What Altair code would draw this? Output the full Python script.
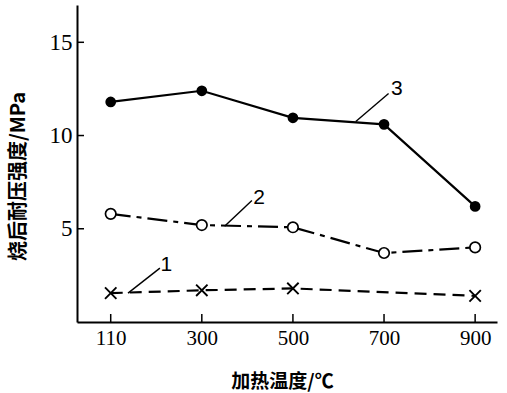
import altair as alt
import pandas as pd

# ---- data ----
temps = ["110", "300", "500", "700", "900"]
series3 = [11.8, 12.4, 10.95, 10.6, 6.2]      # filled circles, solid
series2 = [5.8, 5.2, 5.08, 3.7, 4.0]          # open circles, dash-dot
series1_temps = ["110", "300", "500", "900"]  # crosses, dashed
series1 = [1.55, 1.7, 1.8, 1.4]
y_ticks = [5, 10, 15]

# annotation labels (position in data units) and leader lines
ann_text = ["3", "2", "1"]
ann_x = [3.14, 1.63, 0.61]
ann_y = [12.5, 6.65, 3.05]
lead_x1 = [2.69, 1.25, 0.19]
lead_y1 = [10.75, 5.13, 1.55]
lead_x2 = [3.05, 1.55, 0.54]
lead_y2 = [12.25, 6.52, 2.89]

idx = {t: i for i, t in enumerate(temps)}
d3 = pd.DataFrame({"i": [idx[t] for t in temps], "v": series3})
d2 = pd.DataFrame({"i": [idx[t] for t in temps], "v": series2})
d1 = pd.DataFrame({"i": [idx[t] for t in series1_temps], "v": series1})
dt = pd.DataFrame({"i": list(range(len(temps))), "t": temps})
dy = pd.DataFrame({"v": y_ticks})
da = pd.DataFrame({"x": ann_x, "y": ann_y, "s": ann_text})
dl = pd.DataFrame({"x": lead_x1, "y": lead_y1, "x2": lead_x2, "y2": lead_y2})

W, H = 420, 317
xs = alt.Scale(domain=[-0.37, 4.24], nice=False, zero=False)
ys = alt.Scale(domain=[0, 17], nice=False, zero=False)

label_expr = "[" + ",".join(f"'{t}'" for t in temps) + "][datum.value]"

X = alt.X("i:Q", scale=xs, axis=alt.Axis(
    values=list(range(len(temps))), labelExpr=label_expr, title="加热温度/℃",
    tickSize=0, labelPadding=5, grid=False, domainColor="black", domainWidth=2,
    labelFont="Liberation Serif", labelFontSize=21, labelColor="black",
    titleFont="Noto Sans CJK SC", titleFontSize=19, titleFontWeight="bold",
    titleColor="black", titleX=205, titleY=59, titleBaseline="middle"))
Y = alt.Y("v:Q", scale=ys, axis=alt.Axis(
    values=y_ticks, title="烧后耐压强度/MPa",
    tickSize=0, labelPadding=5, grid=False, domainColor="black", domainWidth=2,
    labelFont="Liberation Serif", labelFontSize=23, labelColor="black",
    titleFont="Noto Sans CJK SC", titleFontSize=20, titleFontWeight="bold",
    titleColor="black", titleX=-59, titleY=171, titleBaseline="middle",
    titleAngle=270))

base_axes = alt.Chart(d3).mark_point(opacity=0).encode(x=X, y=Y)

xt = alt.Chart(dt).mark_rule(color="black", strokeWidth=1.5).encode(
    x=alt.X("i:Q", scale=xs), y=alt.value(H), y2=alt.value(H - 8))
yt = alt.Chart(dy).mark_rule(color="black", strokeWidth=1.5).encode(
    y=alt.Y("v:Q", scale=ys), x=alt.value(0), x2=alt.value(7))

def line(df, dash):
    kw = {"strokeDash": dash} if dash else {}
    return alt.Chart(df).mark_line(color="black", strokeWidth=2.2, **kw).encode(
        x=alt.X("i:Q", scale=xs), y=alt.Y("v:Q", scale=ys))

l3 = line(d3, None)
l2 = line(d2, [20, 6, 5, 6])
l1 = line(d1, [12, 7])

p3 = alt.Chart(d3).mark_point(shape="circle", size=115, filled=True, color="black", opacity=1).encode(
    x=alt.X("i:Q", scale=xs), y=alt.Y("v:Q", scale=ys))
p2 = alt.Chart(d2).mark_point(shape="circle", size=110, filled=True, fill="white", stroke="black",
                              strokeWidth=1.7, opacity=1).encode(
    x=alt.X("i:Q", scale=xs), y=alt.Y("v:Q", scale=ys))
p1 = alt.Chart(d1).mark_point(shape="M -1 -1 L 1 1 M -1 1 L 1 -1", size=130, filled=False,
                              color="black", strokeWidth=1.9, opacity=1).encode(
    x=alt.X("i:Q", scale=xs), y=alt.Y("v:Q", scale=ys))

leads = alt.Chart(dl).mark_rule(color="black", strokeWidth=1.4).encode(
    x=alt.X("x:Q", scale=xs), y=alt.Y("y:Q", scale=ys), x2="x2:Q", y2="y2:Q")
labels = alt.Chart(da).mark_text(font="Liberation Sans", fontSize=21, color="black",
                                 baseline="middle", align="center").encode(
    x=alt.X("x:Q", scale=xs), y=alt.Y("y:Q", scale=ys), text="s:N")

chart = alt.layer(base_axes, xt, yt, l3, l2, l1, leads, p3, p2, p1, labels).properties(
    width=W, height=H,
    autosize=alt.AutoSizeParams(type="none"),
    padding={"left": 77, "top": 5, "right": 10, "bottom": 71},
    background="white",
).configure_view(stroke=None)

chart.save("out.html", embed_options={"renderer": "svg", "actions": False})
